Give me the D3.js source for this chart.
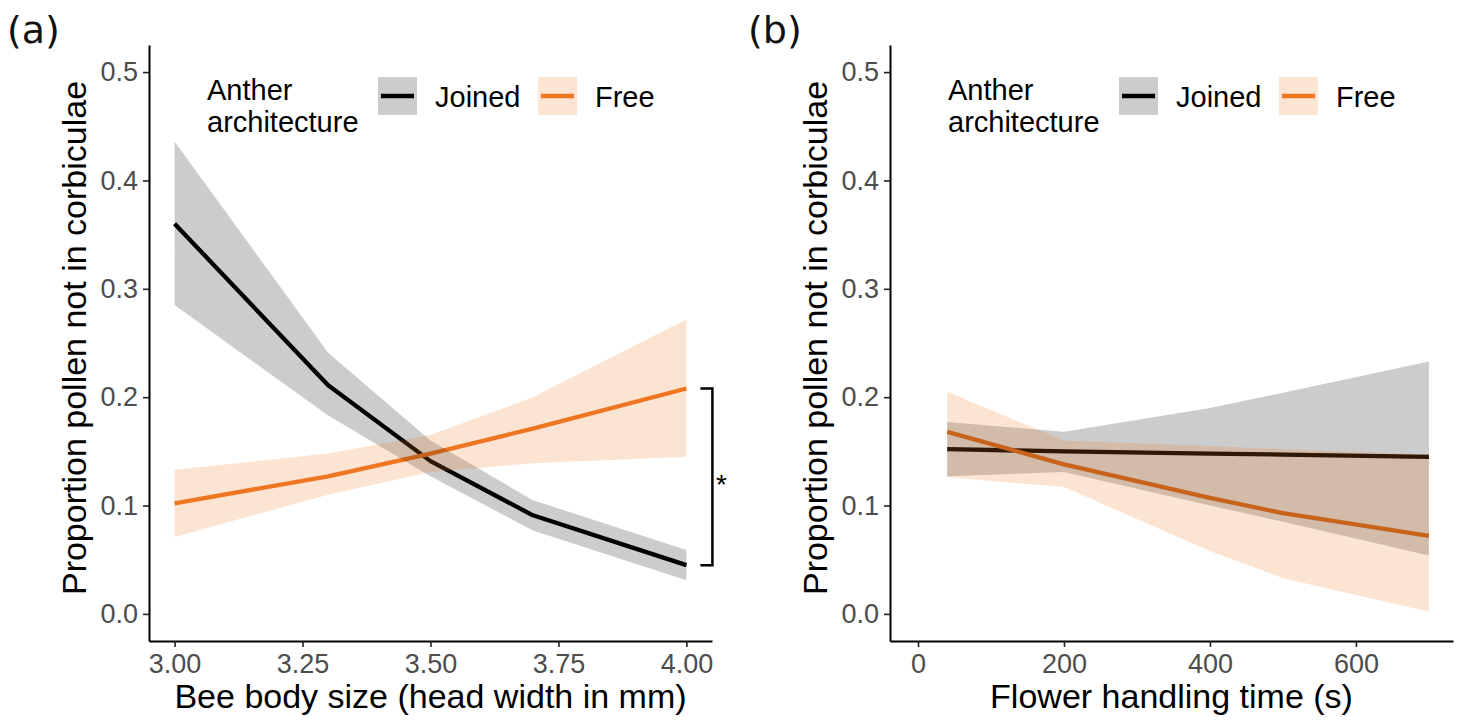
<!DOCTYPE html>
<html>
<head>
<meta charset="utf-8">
<script src="https://cdn.jsdelivr.net/npm/d3@7"></script>
<style>
  html, body { margin: 0; padding: 0; background: #fff; }
  svg { display: block; }
</style>
</head>
<body>
<svg id="chart" width="1463" height="725"></svg>
<script>
// ---------------- DATA ----------------
const groups = ["Joined", "Free"];
const legendTitle = ["Anther", "architecture"];
const yTicks = [0.0, 0.1, 0.2, 0.3, 0.4, 0.5];

// Panel (a): bee body size
const sizeX        = [3.0, 3.3, 3.5, 3.7, 4.0];
const joinedSizeFit = [0.360, 0.211, 0.141, 0.091, 0.045];
const joinedSizeLo  = [0.285, 0.183, 0.127, 0.077, 0.031];
const joinedSizeHi  = [0.436, 0.241, 0.160, 0.105, 0.059];
const freeSizeFit   = [0.102, 0.127, 0.148, 0.171, 0.208];
const freeSizeLo    = [0.071, 0.110, 0.131, 0.139, 0.145];
const freeSizeHi    = [0.133, 0.148, 0.165, 0.200, 0.272];
const sizeTicks     = [3.00, 3.25, 3.50, 3.75, 4.00];

// Panel (b): flower handling time
const timeX          = [40, 200, 400, 500, 700];
const joinedTimeFit  = [0.152, 0.150, 0.148, 0.147, 0.145];
const joinedTimeLo   = [0.127, 0.131, 0.100, 0.085, 0.054];
const joinedTimeHi   = [0.177, 0.168, 0.190, 0.204, 0.233];
const freeTimeFit    = [0.168, 0.138, 0.107, 0.093, 0.072];
const freeTimeLo     = [0.126, 0.117, 0.058, 0.033, 0.002];
const freeTimeHi     = [0.205, 0.160, 0.155, 0.152, 0.147];
const timeTicks      = [0, 200, 400, 600];

// significance bracket (panel a, at x = 4.0)
const bracketX = 4.0;
const bracketTop = 0.208, bracketBottom = 0.045;
const bracketLabel = "*";

// ---------------- STYLE ----------------
const colors = { Joined: "#000000", Free: "#EE7621" };
const ribbonOpacity = 0.2;
const font = "'Liberation Sans', Arial, sans-serif";

const svg = d3.select("#chart");

function panel(opts) {
  const { left, right, top, bottom, xDomain, xTickVals, xFmt, xLabel, tag, series } = opts;
  const x = d3.scaleLinear().domain(xDomain).range([left, right]);
  const y = d3.scaleLinear().domain([-0.025, 0.525]).range([bottom, top]);
  const g = svg.append("g");

  // lines first, ribbons on top (as in the reference)
  const line = d3.line().x(d => x(d.x)).y(d => y(d.fit));
  const area = d3.area().x(d => x(d.x)).y0(d => y(d.lo)).y1(d => y(d.hi));

  series.forEach(s => {
    g.append("path").datum(s.data).attr("d", line)
      .attr("fill", "none").attr("stroke", colors[s.name])
      .attr("stroke-width", 4.3).attr("stroke-linejoin", "round");
  });
  series.forEach(s => {
    g.append("path").datum(s.data).attr("d", area)
      .attr("fill", colors[s.name]).attr("fill-opacity", ribbonOpacity)
      .attr("stroke", "none");
  });

  // axes
  const yAxis = g.append("g").attr("transform", `translate(${left},0)`)
    .call(d3.axisLeft(y).tickValues(yTicks).tickFormat(d3.format(".1f"))
      .tickSize(6).tickSizeOuter(0).tickPadding(5));
  const xAxis = g.append("g").attr("transform", `translate(0,${bottom})`)
    .call(d3.axisBottom(x).tickValues(xTickVals).tickFormat(xFmt)
      .tickSize(6).tickSizeOuter(0).tickPadding(7));
  [yAxis, xAxis].forEach(a => {
    a.select(".domain").attr("stroke", "#000").attr("stroke-width", 2);
    a.selectAll(".tick line").attr("stroke", "#222").attr("stroke-width", 1.6);
    a.selectAll(".tick text").attr("fill", "#4d4d4d")
      .style("font-family", font).style("font-size", "27px");
  });

  // axis titles
  g.append("text").attr("x", (left + right) / 2).attr("y", 708)
    .attr("text-anchor", "middle").style("font-family", font).style("font-size", "34px")
    .attr("fill", "#000").text(xLabel);
  g.append("text")
    .attr("transform", `translate(${left - 63},${(top + bottom) / 2 - 5}) rotate(-90)`)
    .attr("text-anchor", "middle").style("font-family", font).style("font-size", "34px")
    .attr("fill", "#000").text("Proportion pollen not in corbiculae");

  // panel tag
  g.append("text").attr("x", left - 142).attr("y", 43)
    .style("font-family", "'DejaVu Sans', sans-serif").style("font-size", "38px")
    .attr("fill", "#111").text(tag);

  // legend
  const lg = g.append("g");
  lg.append("text").attr("x", left + 58).attr("y", 100)
    .style("font-family", font).style("font-size", "29px").attr("fill", "#000").text(legendTitle[0]);
  lg.append("text").attr("x", left + 58).attr("y", 132)
    .style("font-family", font).style("font-size", "29px").attr("fill", "#000").text(legendTitle[1]);
  const keyX = [left + 229, left + 389];
  const labX = [left + 286, left + 446];
  groups.forEach((name, i) => {
    lg.append("rect").attr("x", keyX[i]).attr("y", 77).attr("width", 39).attr("height", 38)
      .attr("fill", colors[name]).attr("fill-opacity", ribbonOpacity);
    lg.append("line").attr("x1", keyX[i] + 3).attr("x2", keyX[i] + 36)
      .attr("y1", 96).attr("y2", 96).attr("stroke", colors[name]).attr("stroke-width", 4.3);
    lg.append("text").attr("x", labX[i]).attr("y", 107)
      .style("font-family", font).style("font-size", "29px").attr("fill", "#000").text(name);
  });

  return { g, x, y };
}

function zipSeries(xs, fit, lo, hi) {
  return xs.map((v, i) => ({ x: v, fit: fit[i], lo: lo[i], hi: hi[i] }));
}

const pa = panel({
  left: 149, right: 712, top: 45, bottom: 641,
  xDomain: [2.95, 4.05], xTickVals: sizeTicks, xFmt: d3.format(".2f"),
  xLabel: "Bee body size (head width in mm)", tag: "(a)",
  series: [
    { name: "Joined", data: zipSeries(sizeX, joinedSizeFit, joinedSizeLo, joinedSizeHi) },
    { name: "Free",   data: zipSeries(sizeX, freeSizeFit, freeSizeLo, freeSizeHi) }
  ]
});

panel({
  left: 890, right: 1453, top: 45, bottom: 641,
  xDomain: [-38.4, 733], xTickVals: timeTicks, xFmt: d3.format("d"),
  xLabel: "Flower handling time (s)", tag: "(b)",
  series: [
    { name: "Joined", data: zipSeries(timeX, joinedTimeFit, joinedTimeLo, joinedTimeHi) },
    { name: "Free",   data: zipSeries(timeX, freeTimeFit, freeTimeLo, freeTimeHi) }
  ]
});

// significance bracket in panel (a)
const bx = pa.x(bracketX) + 26;
const bt = pa.y(bracketTop), bb = pa.y(bracketBottom);
pa.g.append("path")
  .attr("d", `M${bx - 12},${bt} H${bx} V${bb} H${bx - 12}`)
  .attr("fill", "none").attr("stroke", "#000").attr("stroke-width", 2.5);
pa.g.append("text").attr("x", bx + 9).attr("y", (bt + bb) / 2 + 17)
  .attr("text-anchor", "middle").style("font-family", font).style("font-size", "28px")
  .attr("fill", "#000").text(bracketLabel);
</script>
</body>
</html>
